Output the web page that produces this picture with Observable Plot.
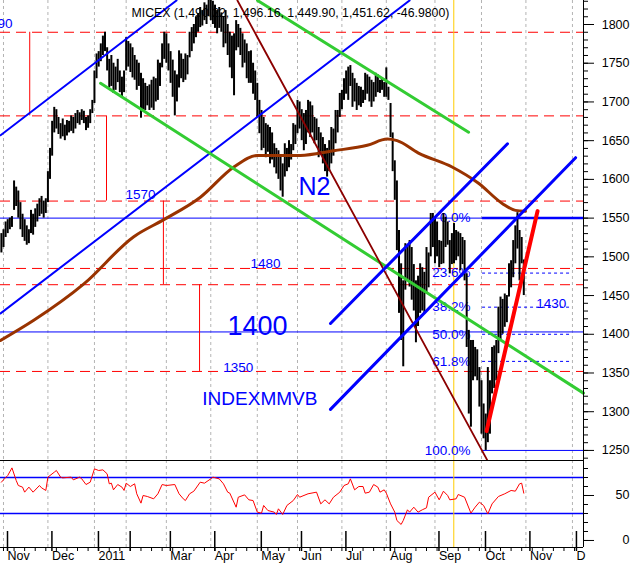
<!DOCTYPE html>
<html><head><meta charset="utf-8">
<script src="https://cdn.jsdelivr.net/npm/d3@7"></script>
<script src="https://cdn.jsdelivr.net/npm/@observablehq/plot@0.6"></script>
<style>
body{margin:0;background:#fff;}
#chart{position:relative;width:633px;height:567px;overflow:hidden;background:#fff;}
#chart svg{position:absolute;left:0;}
</style></head><body><div id="chart"></div>
<script>
// ---- data (x = trading-day index from 1 Nov 2010, y = index points) ----
const titleText = "MICEX (1,490.22, 1,496.16, 1,449.90, 1,451.62, -46.9800)";
const monthStarts = [0,21,43,58,77,98,120,139,160,181,204,226,247,269];
const monthLabels = ["Nov","Dec","2011","","Mar","Apr","May","Jun","Jul","Aug","Sep","Oct","Nov","D"];
const priceTicks = [1250,1300,1350,1400,1450,1500,1550,1600,1650,1700,1750,1800];
const rsiTicks = [0,50];
const firstBar = -1;
const lows = [
1505,1512,1525,1530,1535,1538,1560,1565,1550,1535,
1525,1520,1515,1517,1530,1528,1538,1545,1552,1555,
1550,1556,1570,1600,1630,1660,1665,1658,1652,1655,
1650,1656,1660,1662,1659,1665,1672,1670,1676,1672,
1663,1666,1672,1685,1698,1730,1745,1752,1760,1765,
1740,1718,1720,1711,1715,1725,1712,1706,1712,1740,
1745,1738,1731,1728,1715,1720,1679,1690,1689,1695,
1689,1692,1689,1700,1702,1720,1744,1755,1750,1740,
1724,1706,1682,1700,1718,1730,1725,1728,1735,1757,
1765,1775,1783,1790,1796,1798,1805,1800,1810,1805,
1800,1795,1788,1795,1790,1770,1775,1760,1744,1730,
1708,1766,1770,1760,1744,1750,1730,1724,1724,1710,
1702,1680,1659,1637,1640,1628,1635,1620,1625,1615,
1607,1600,1585,1577,1603,1610,1615,1625,1637,1645,
1659,1665,1650,1637,1645,1660,1654,1660,1646,1650,
1628,1635,1620,1610,1603,1610,1620,1630,1646,1660,
1680,1690,1702,1710,1702,1720,1693,1700,1689,1695,
1693,1698,1702,1710,1700,1693,1700,1706,1712,1711,
1715,1706,1706,1702,1654,1610,1573,1508,1427,1392,
1358,1457,1470,1461,1444,1430,1389,1410,1427,1430,
1427,1452,1460,1500,1512,1491,1500,1486,1490,1491,
1512,1515,1478,1490,1491,1495,1500,1482,1490,1469,
1383,1297,1280,1340,1345,1340,1306,1271,1265,1250,
1260,1271,1323,1330,1340,1375,1392,1400,1409,1415,
1448,1460,1473,1491,1510,1469,1491,1450];
const highs = [
1530,1535,1545,1548,1550,1552,1598,1590,1585,1570,
1555,1548,1540,1535,1560,1555,1562,1568,1575,1578,
1572,1575,1610,1640,1675,1693,1690,1680,1672,1678,
1670,1676,1675,1682,1680,1685,1689,1686,1690,1688,
1680,1682,1690,1702,1740,1762,1765,1775,1785,1790,
1770,1755,1760,1750,1745,1755,1740,1732,1740,1783,
1778,1775,1770,1760,1754,1750,1737,1730,1724,1720,
1722,1728,1732,1730,1754,1750,1775,1790,1788,1775,
1765,1754,1740,1735,1766,1762,1755,1762,1760,1790,
1796,1800,1810,1814,1822,1818,1828,1825,1835,1840,
1830,1825,1818,1822,1815,1810,1818,1800,1790,1785,
1788,1805,1800,1795,1788,1780,1775,1765,1766,1750,
1740,1724,1702,1689,1680,1672,1670,1667,1660,1646,
1640,1637,1630,1620,1646,1640,1650,1645,1672,1670,
1702,1700,1690,1685,1689,1702,1700,1695,1680,1678,
1667,1660,1654,1645,1640,1650,1667,1665,1689,1689,
1711,1715,1730,1740,1745,1747,1737,1730,1724,1720,
1719,1715,1737,1735,1732,1728,1725,1737,1735,1728,
1730,1725,1744,1719,1698,1660,1624,1598,1534,1491,
1469,1517,1515,1521,1512,1490,1469,1475,1491,1486,
1480,1512,1505,1556,1556,1550,1545,1521,1520,1556,
1551,1545,1521,1530,1543,1534,1532,1530,1525,1521,
1478,1405,1392,1392,1383,1380,1357,1340,1310,1297,
1357,1340,1383,1385,1392,1435,1448,1445,1452,1450,
1491,1495,1521,1540,1557,1534,1525,1496];
// moving average
const maBars = [-1.4,14.3,38,61.6,75.8,93.1,108.9,120,140.4,156,172,181.4,186.1,196.2,212.1,224.6,235.8,242.1,246.8];
const maVals = [1392,1418,1465,1526,1548,1577,1616,1631,1631,1637,1644,1652,1650,1634,1616,1595,1569,1560,1559];
// RSI
const rsiBars = [-1,0,2,4,6,7,9,10,12,14,17,18,20,21,24,25,27,28,32,33,36,37,39,41,43,45,47,49,50,51,
52,54,56,57,58,60,62,63,65,66,68,71,73,75,77,81,83,85,86,88,90,93,95,98,99,102,104,106,107,110,
111,114,116,118,120,122,123,125,128,129,130,132,134,137,139,140,144,148,150,152,154,156,159,161,163,164,166,168,170,171,
173,175,177,178,180,181,183,185,186,188,189,191,192,194,196,198,200,201,204,206,208,210,211,214,215,218,221,223,225,227,
229,231,234,237,240,242,244,245,246];
const rsiVals = [64.8,67.4,72.2,80.7,66.7,61.1,59.3,53.7,59.3,53.7,61.1,58.5,55.6,70.4,75.9,77.8,70.4,69.6,70.4,67.4,
70.4,68.5,62.2,64.8,79.6,77.8,78.5,74.1,63,63.7,56.3,62.2,59.3,55.6,63.7,60,63,51.9,41.5,50,
48.9,46.3,51.9,62.2,61.1,62.2,51.9,46.3,44.4,51.9,54.8,64.8,63.7,68.5,70.4,68.5,63,53.7,52.6,37,
48.1,50.7,45.2,44.4,31.5,30.4,38.9,33.3,31.5,28.9,35.2,28.9,38.9,44.4,51.1,48.1,51.9,53.7,40.7,45.2,
40.7,48.1,53.7,61.1,63,68.5,56.3,60,60,52.6,53.7,62.2,59.3,53.7,56.3,52.6,40.7,31.5,22.2,17.8,
22.2,34.1,31.5,37,31.5,34.1,36.3,48.1,53.7,45.2,54.8,50,45.2,46.3,51.1,48.1,30.4,37,42.6,38.9,
29.6,40.7,48.9,51.9,55.6,54.8,63,63.7,52.6];
const rsiLevels = [70,30];
// drawn levels and lines (bar, price)
const redLevels = [1790,1682,1572,1485,1464,1352];
const blueLevels = [1550,1403];
const rangeBars = [12.4,48.7,75.6,92.7];
const rangeFrom = [1790,1682,1572,1464];
const rangeTo = [1682,1572,1464,1352];
const markerBar = 212.9;
const fibLabels = ["0.0%","23.6%","38.2%","50.0%","61.8%","100.0%"];
const fibPrices = [1550,1479,1435,1400,1365,1250];
const fibFrom = 226.5, fibTo = 268.6, fibLabelBar = 220.8;
const trendA = [[-1.4,1657],[81.8,1831]];
const trendB = [[-1.4,1427],[192,1831]];
const trendC = [[45.9,1724],[274.2,1324]];
const trendD = [[120.1,1831],[219.9,1661]];
const trendE = [[110.6,1831],[228.8,1237]];
const channelUp = [[154.6,1414],[238.3,1646]];
const channelLow = [[154.6,1303],[270.5,1628]];
const trendRed = [[228.4,1275],[252.5,1559]];
const smallLabels = ["1570","1480","1350","1430"];
const smallBars = [57.7,116.8,103.9,251.9];
const smallPrices = [1580,1491,1357,1440];
const edgeLabel = "1790";

// ---- tables ----
const bars = lows.map((l,k)=>({i:k+firstBar, low:l, high:highs[k]}));
const ma = maBars.map((b,k)=>({bar:b, v:maVals[k]}));
const rsi = rsiBars.map((b,k)=>({bar:b, v:rsiVals[k]}));
const ranges = rangeBars.map((b,k)=>({x:b, y1:rangeFrom[k], y2:rangeTo[k]}));
const fib = fibLabels.map((t,k)=>({label:t, price:fibPrices[k]}));
const small = smallLabels.map((t,k)=>({t, x:smallBars[k], y:smallPrices[k]}));

const xDomain = [-1.418, 274.23];
const font = '"Liberation Sans", Arial, sans-serif';
const BLUE = "#0000ff";

const main = Plot.plot({
  width: 633, height: 460,
  marginLeft: 0, marginRight: 50, marginTop: 0, marginBottom: 0,
  x: {domain: xDomain, axis: null},
  y: {domain: [1237, 1831], axis: null},
  style: {fontFamily: font, fontSize: "12.5px", background: "transparent"},
  marks: [
    Plot.ruleX(monthStarts, {stroke: "#b4b4b4", strokeDasharray: "3,3"}),
    Plot.ruleY(redLevels, {stroke: "#ff0000", strokeDasharray: "10,6"}),
    Plot.ruleY(blueLevels, {stroke: BLUE}),
    Plot.ruleX(ranges, {x: "x", y1: "y1", y2: "y2", stroke: "#ff0000"}),
    Plot.ruleX([markerBar], {stroke: "#ffcc00"}),
    Plot.ruleY(fib.filter(d => d.label !== "0.0%" && d.label !== "100.0%"), {y: "price", x1: fibFrom, x2: fibTo, stroke: BLUE, strokeDasharray: "3,3"}),
    Plot.ruleY(fib.filter(d => d.label === "100.0%"), {y: "price", x1: fibFrom, x2: xDomain[1], stroke: BLUE}),
    Plot.ruleY(fib.filter(d => d.label === "0.0%"), {y: "price", x1: fibFrom, x2: xDomain[1], stroke: BLUE, strokeWidth: 2.5}),
    Plot.text(fib, {x: fibLabelBar, y: "price", text: "label", textAnchor: "end", fill: BLUE, fontSize: 13.5}),
    Plot.ruleX(bars, {x: "i", y1: "low", y2: "high", stroke: "black", strokeWidth: 2}),
    Plot.line(ma, {x: "bar", y: "v", stroke: "#993300", strokeWidth: 3, curve: "monotone-x"}),
    Plot.line(trendA, {stroke: BLUE, strokeWidth: 2}),
    Plot.line(trendB, {stroke: BLUE, strokeWidth: 2}),
    Plot.line(trendC, {stroke: "#33cc33", strokeWidth: 3}),
    Plot.line(trendD, {stroke: "#33cc33", strokeWidth: 3}),
    Plot.line(trendE, {stroke: "#8b0000", strokeWidth: 1.8}),
    Plot.line(channelUp, {stroke: BLUE, strokeWidth: 3}),
    Plot.line(channelLow, {stroke: BLUE, strokeWidth: 3}),
    Plot.line(trendRed, {stroke: "#ff0000", strokeWidth: 4}),
    Plot.text(small, {x: "x", y: "y", text: "t", textAnchor: "start", fill: BLUE, fontSize: 13.5}),
    Plot.text([edgeLabel], {x: 4.3, y: 1801, textAnchor: "end", fill: BLUE, fontSize: 13.5}),
    Plot.text(["1400"], {x: 105.9, y: 1410.5, textAnchor: "start", fill: BLUE, fontSize: 27}),
    Plot.text(["N2"], {x: 139.5, y: 1589.6, textAnchor: "start", fill: BLUE, fontSize: 25}),
    Plot.text(["INDEXMMVB"], {x: 94, y: 1316.8, textAnchor: "start", fill: BLUE, fontSize: 19}),
    Plot.text([titleText], {frameAnchor: "top-left", dx: 131, dy: 8, textAnchor: "start", lineAnchor: "top", fill: "black", fontSize: 12.3}),
    Plot.ruleX([xDomain[1]], {stroke: "black"}),
    Plot.axisY({anchor: "right", label: null, ticks: d3.range(1240, 1831, 10), tickSize: 4, tickFormat: () => ""}),
    Plot.axisY({anchor: "right", label: null, ticks: priceTicks, tickSize: 10, tickPadding: 36, textAnchor: "end", tickFormat: d => String(d), fontSize: 12.5})
  ]
});

const rsiDomain = [-7.8, 88.9];
const lower = Plot.plot({
  width: 633, height: 108,
  marginLeft: 0, marginRight: 50, marginTop: 1, marginBottom: 20,
  x: {domain: xDomain, axis: null},
  y: {domain: rsiDomain, axis: null},
  style: {fontFamily: font, fontSize: "12.5px", background: "transparent"},
  marks: [
    Plot.ruleX(monthStarts, {stroke: "#b4b4b4", strokeDasharray: "3,3"}),
    Plot.ruleY(rsiLevels, {stroke: BLUE, strokeWidth: 1.5}),
    Plot.ruleX([markerBar], {stroke: "#ffcc00"}),
    Plot.line(rsi, {x: "bar", y: "v", stroke: "#ff0000", strokeWidth: 1}),
    Plot.ruleY([rsiDomain[1]], {stroke: "black", strokeWidth: 1.2}),
    Plot.ruleY([rsiDomain[0]], {stroke: "black"}),
    Plot.ruleX([xDomain[1]], {stroke: "black"}),
    Plot.axisY({anchor: "right", label: null, ticks: d3.range(0, 81, 10), tickSize: 4, tickFormat: () => ""}),
    Plot.axisY({anchor: "right", label: null, ticks: rsiTicks, tickSize: 10, tickPadding: 36, textAnchor: "end", tickFormat: d => String(d), fontSize: 12.5}),
    Plot.axisX({anchor: "bottom", label: null, ticks: d3.range(0, 274, 5), tickSize: 4, tickFormat: () => ""}),
    Plot.axisX({anchor: "bottom", label: null, ticks: monthStarts, tickSize: 20, tickPadding: 0, strokeWidth: 1.5,
      tickFormat: d => monthLabels[monthStarts.indexOf(d)], textAnchor: "start", lineAnchor: "top", dx: 4, dy: -16, fontSize: 12.5})
  ]
});

const root = document.getElementById("chart");
main.style.top = "0px";
lower.style.top = "459px";
root.appendChild(main);
root.appendChild(lower);
</script></body></html>
